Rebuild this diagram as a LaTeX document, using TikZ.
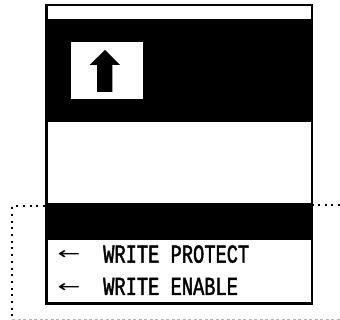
\documentclass[tikz,border=0pt]{standalone}
\usepackage{fontspec}
\newfontfamily\monoF[FakeStretch=0.72,FakeBold=1.6]{Liberation Mono}
\newfontfamily\symF{DejaVu Sans}
\begin{document}
\begin{tikzpicture}[x=1pt,y=-1pt,
  lbl/.style={inner sep=0pt,anchor=base west,font=\monoF\fontsize{26}{26}\selectfont},
  arr/.style={inner sep=0pt,anchor=center,font=\symF\fontsize{17}{17}\selectfont},
  dotline/.style={line width=2pt,dash pattern=on 2pt off 4.7pt},
  grayline/.style={gray!60,line width=0.6pt,dash pattern=on 3pt off 2.5pt}]
\useasboundingbox (0,0) rectangle (340,320);
% dotted outline
\draw[dotline] (45,206.5) -- (12.3,206.5) -- (12.3,320);
\draw[dotline] (340,205.5) -- (313,205.5);
\draw[grayline] (12,319.3) -- (340,319.3);
% card
\fill[black] (45,4) rectangle (313,305);
\fill[white] (47.5,6.5) rectangle (310.5,19.5);
\fill[white] (47.5,122) rectangle (310.5,203);
\fill[white] (47.5,240) rectangle (310.5,302.5);
% arrow box
\fill[white] (71,42) rectangle (143,99);
\fill[black] (105,50) -- (120,65) -- (112.3,65) -- (112.3,92) -- (97,92) -- (97,65) -- (89.5,65) -- cycle;
% labels
\node[arr] (a1) at (69,255.5) {\scalebox{1.6}[1]{←}};
\node[arr] (a2) at (69,288) {\scalebox{1.6}[1]{←}};
\node[lbl] (t1) at (103,262.7) {WRITE PROTECT};
\node[lbl] (t2) at (103,295) {WRITE ENABLE};
\end{tikzpicture}
\end{document}
